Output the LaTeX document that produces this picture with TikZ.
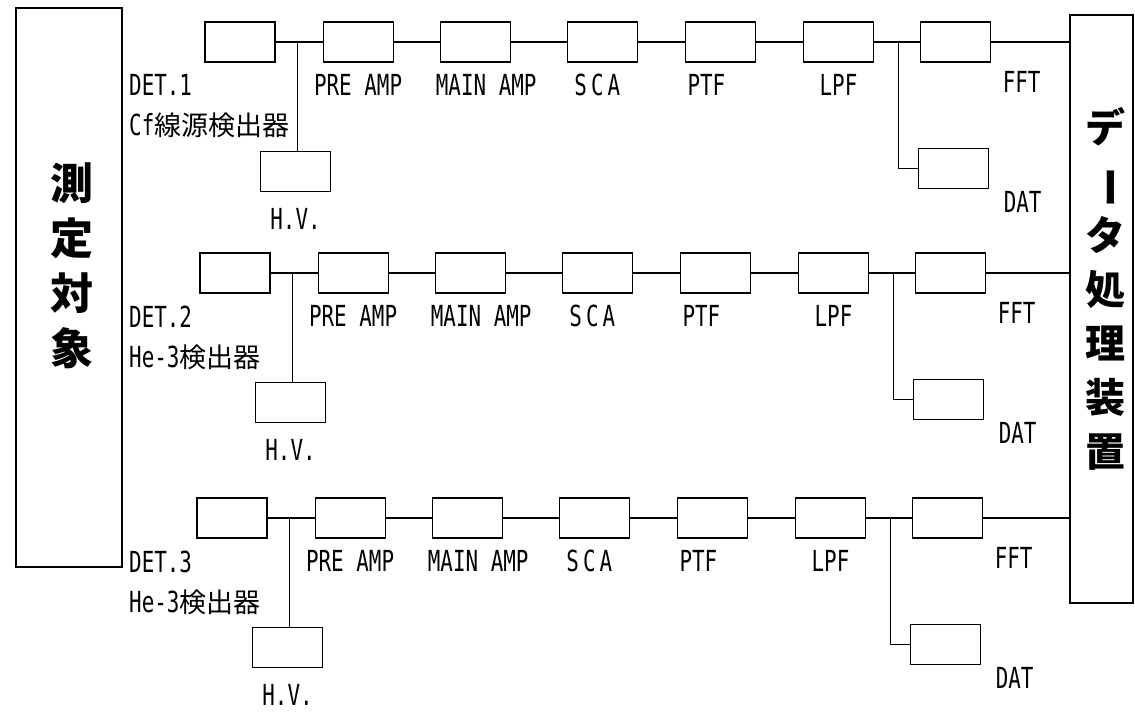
\documentclass[tikz,border=0pt]{standalone}
\usepackage{fontspec}
\usepackage{graphicx}
\usepackage{tikz}
\usetikzlibrary{positioning}
\setmainfont{Noto Sans CJK JP}
\newfontfamily\latfont[FakeStretch=0.72]{DejaVu Sans Mono}
\newcommand\latsize{\latfont\fontsize{29}{32}\selectfont}
\newcommand\jpsize{\fontsize{27}{30}\selectfont}
\newcommand\objsize{\bfseries\fontsize{43}{55}\selectfont}
\newcommand\procsize{\bfseries\fontsize{40}{54}\selectfont}
\tikzset{
  unitbox/.style={draw,line width=1.1pt,minimum width=70pt,minimum height=40pt,inner sep=0pt},
  bigbox/.style={draw,line width=1.1pt,inner sep=0pt},
  sigline/.style={line width=1.1pt},
  unitlab/.style={anchor=base,inner sep=0pt,font=\latsize},
  detlab/.style={anchor=base west,inner sep=0pt},
  tallbox/.style={align=center,inner sep=0pt}
}
\begin{document}
\begin{tikzpicture}[x=1pt,y=-1pt]
\useasboundingbox (0,0) rectangle (1135,714);
% measured object and processing unit
\node[bigbox,minimum width=106pt,minimum height=559pt] (obj) at (69,287.5) {};
\node[tallbox,font=\objsize] (objtxt) at (72,266) {測\\定\\対\\象};
\node[bigbox,minimum width=63pt,minimum height=588pt] (proc) at (1101.5,309) {};
\node[tallbox,font=\procsize] (proctxt) at (1105,289) {デ\\\rotatebox[origin=c]{-90}{ー}\\タ\\処\\理\\装\\置};

% one chain per detector
\foreach \r/\ly/\dx/\dname in {1/42/0/{{\latsize Cf}線源検出器},2/273/5/{{\latsize He-3}検出器},3/518/8/{{\latsize He-3}検出器}}{
  \node[unitbox] (det\r) at (240-\dx,\ly) {};
  \node[unitbox,right=47pt of det\r] (pre\r) {};
  \node[unitbox,right=46pt of pre\r] (main\r) {};
  \node[unitbox,right=56pt of main\r] (sca\r) {};
  \node[unitbox,right=47pt of sca\r] (ptf\r) {};
  \node[unitbox,right=47pt of ptf\r] (lpf\r) {};
  \node[unitbox,right=46pt of lpf\r] (fft\r) {};
  \coordinate (jl\r) at ([xshift=22pt]det\r.east);
  \coordinate (jr\r) at ([xshift=24pt]lpf\r.east);
  \node[unitbox,below=109pt of jl\r,xshift=-2pt] (hv\r) {};
  \node[unitbox,below=85pt of fft\r,xshift=-2pt] (dat\r) {};
  \draw[sigline] (det\r) -- (pre\r) -- (main\r) -- (sca\r) -- (ptf\r) -- (lpf\r) -- (fft\r);
  \draw[sigline] (jl\r) -- (jl\r |- hv\r.north);
  \draw[sigline] (jr\r) |- (dat\r);
  \draw[sigline] (fft\r) -- (fft\r -| proc.west);
  \node[detlab,font=\latsize] (did\r) at (129,\ly+54) {DET.\r};
  \node[detlab,font=\jpsize] (dname\r) at (129,\ly+94) {\dname};
  \node[unitlab] (lpre\r) at ([yshift=-33pt]pre\r.south) {PRE AMP};
  \node[unitlab] (lmain\r) at ([xshift=11pt,yshift=-33pt]main\r.south) {MAIN AMP};
  \node[unitlab] (lsca\r) at ([xshift=-5pt,yshift=-33pt]sca\r.south) {S\kern4pt C\kern4pt A};
  \node[unitlab] (lptf\r) at ([xshift=-14pt,yshift=-33pt]ptf\r.south) {PTF};
  \node[unitlab] (llpf\r) at ([yshift=-33pt]lpf\r.south) {LPF};
  \node[unitlab] (lfft\r) at ([xshift=66pt,yshift=-30pt]fft\r.south) {FFT};
  \node[unitlab] (ldat\r) at ([xshift=69pt,yshift=-24pt]dat\r.south) {DAT};
  \node[unitlab] (lhv\r) at ([yshift=-37pt]hv\r.south) {H.V.};
}
\end{tikzpicture}
\end{document}
